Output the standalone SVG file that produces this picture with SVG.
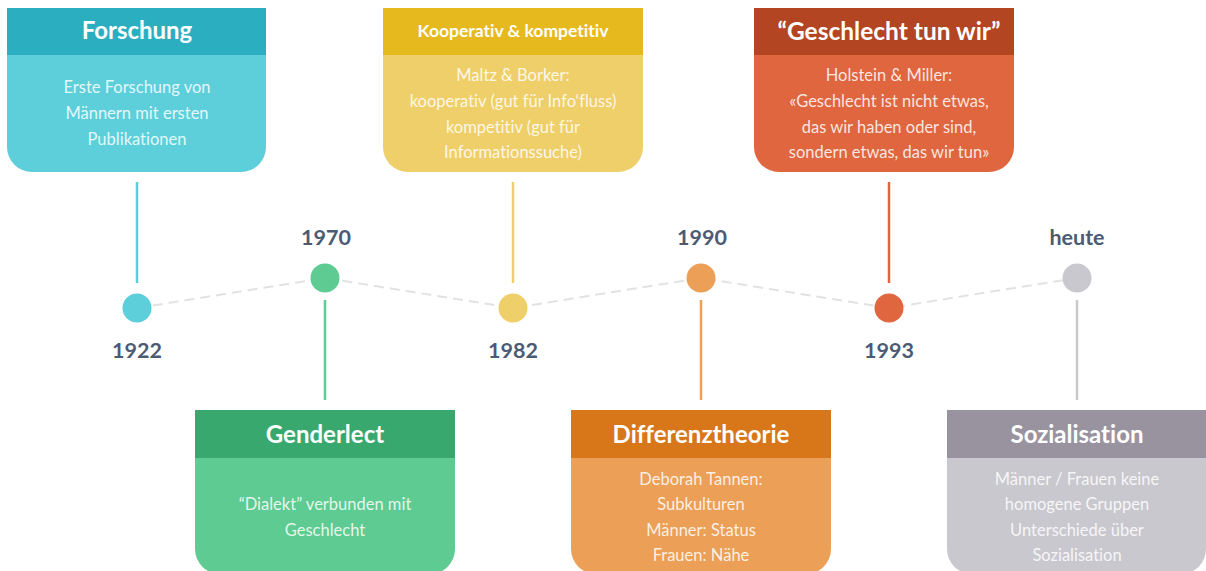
<svg xmlns="http://www.w3.org/2000/svg" width="1206" height="571" viewBox="0 0 1206 571">
<style>
text{font-variant-ligatures:none;font-feature-settings:"liga" 0,"dlig" 0}
.title{font-family:Lato,"Open Sans",sans-serif;font-weight:700;font-size:24px;fill:#ffffff;text-anchor:middle}
.body{font-family:Lato,"Open Sans",sans-serif;font-size:16.5px;fill:#ffffff;fill-opacity:0.85;text-anchor:middle}
.year{font-family:Lato,"Open Sans",sans-serif;font-weight:700;font-size:21.5px;fill:#4b5b73;text-anchor:middle}
.stem{stroke-width:2.5;fill:none}
</style>
<rect width="1206" height="571" fill="#ffffff"/>
<g id="connectors">
<polyline points="137,308 325,278 513,308 701,278 889,308 1077,278" fill="none" stroke="#e2e2e2" stroke-width="2" stroke-dasharray="10,6"/>
<line class="stem" x1="137" y1="182" x2="137" y2="283" stroke="#5dcfdb"/>
<line class="stem" x1="325" y1="300" x2="325" y2="400" stroke="#5ecb92"/>
<line class="stem" x1="513" y1="182" x2="513" y2="283" stroke="#efcf69"/>
<line class="stem" x1="701" y1="300" x2="701" y2="400" stroke="#eca057"/>
<line class="stem" x1="889" y1="182" x2="889" y2="283" stroke="#df663e"/>
<line class="stem" x1="1077" y1="300" x2="1077" y2="400" stroke="#c9c8cf"/>
</g>
<g id="y1922"><circle cx="137" cy="308" r="14.5" fill="#5dcfdb"/><text class="year" x="137" y="358">1922</text></g>
<g id="y1970"><circle cx="325" cy="278" r="14.5" fill="#5ecb92"/><text class="year" x="326" y="245">1970</text></g>
<g id="y1982"><circle cx="513" cy="308" r="14.5" fill="#efcf69"/><text class="year" x="513" y="358">1982</text></g>
<g id="y1990"><circle cx="701" cy="278" r="14.5" fill="#eca057"/><text class="year" x="702" y="245">1990</text></g>
<g id="y1993"><circle cx="889" cy="308" r="14.5" fill="#df663e"/><text class="year" x="889" y="358">1993</text></g>
<g id="yheute"><circle cx="1077" cy="278" r="14.5" fill="#c9c8cf"/><text class="year" x="1077" y="245">heute</text></g>

<g id="card-forschung">
<path d="M7,55 H266 V147 A25,25 0 0 1 241,172 H32 A25,25 0 0 1 7,147 Z" fill="#5dcfdb"/>
<rect x="7" y="8" width="259" height="47" fill="#2bafc0"/>
<text class="title" x="137" y="39">Forschung</text>
<text class="body" x="137" y="93">Erste Forschung von</text>
<text class="body" x="137" y="119">Männern mit ersten</text>
<text class="body" x="137" y="145">Publikationen</text>
</g>
<g id="card-kooperativ">
<path d="M383,55 H643 V147 A25,25 0 0 1 618,172 H408 A25,25 0 0 1 383,147 Z" fill="#efcf69"/>
<rect x="383" y="8" width="260" height="47" fill="#e6b91e"/>
<text class="title" x="513" y="37" style="font-size:17.5px">Kooperativ &amp; kompetitiv</text>
<text class="body" x="513" y="81">Maltz &amp; Borker:</text>
<text class="body" x="513" y="107">kooperativ (gut für Info‘fluss)</text>
<text class="body" x="513" y="133">kompetitiv (gut für</text>
<text class="body" x="513" y="158">Informationssuche)</text>
</g>
<g id="card-geschlecht">
<path d="M754,55 H1014 V147 A25,25 0 0 1 989,172 H779 A25,25 0 0 1 754,147 Z" fill="#df663e"/>
<rect x="754" y="8" width="260" height="47" fill="#b34522"/>
<text class="title" x="889" y="40" style="font-size:24.5px">“Geschlecht tun wir”</text>
<text class="body" x="889" y="81">Holstein &amp; Miller:</text>
<text class="body" x="889" y="107">«Geschlecht ist nicht etwas,</text>
<text class="body" x="889" y="133">das wir haben oder sind,</text>
<text class="body" x="889" y="158">sondern etwas, das wir tun»</text>
</g>
<g id="card-genderlect">
<path d="M195,458 H455 V549 A25,25 0 0 1 430,574 H220 A25,25 0 0 1 195,549 Z" fill="#5ecb92"/>
<rect x="195" y="410" width="260" height="48" fill="#39a86e"/>
<text class="title" x="325" y="443">Genderlect</text>
<text class="body" x="325" y="510">“Dialekt” verbunden mit</text>
<text class="body" x="325" y="536">Geschlecht</text>
</g>
<g id="card-differenz">
<path d="M571,458 H831 V549 A25,25 0 0 1 806,574 H596 A25,25 0 0 1 571,549 Z" fill="#eca057"/>
<rect x="571" y="410" width="260" height="48" fill="#d8761a"/>
<text class="title" x="701" y="443">Differenztheorie</text>
<text class="body" x="701" y="485">Deborah Tannen:</text>
<text class="body" x="701" y="510">Subkulturen</text>
<text class="body" x="701" y="536">Männer: Status</text>
<text class="body" x="701" y="561">Frauen: Nähe</text>
</g>
<g id="card-sozialisation">
<path d="M947,458 H1206 V549 A25,25 0 0 1 1181,574 H972 A25,25 0 0 1 947,549 Z" fill="#c9c8cf"/>
<rect x="947" y="410" width="259" height="48" fill="#98939f"/>
<text class="title" x="1077" y="443">Sozialisation</text>
<text class="body" x="1077" y="485">Männer / Frauen keine</text>
<text class="body" x="1077" y="510">homogene Gruppen</text>
<text class="body" x="1077" y="536">Unterschiede über</text>
<text class="body" x="1077" y="561">Sozialisation</text>
</g>
</svg>
